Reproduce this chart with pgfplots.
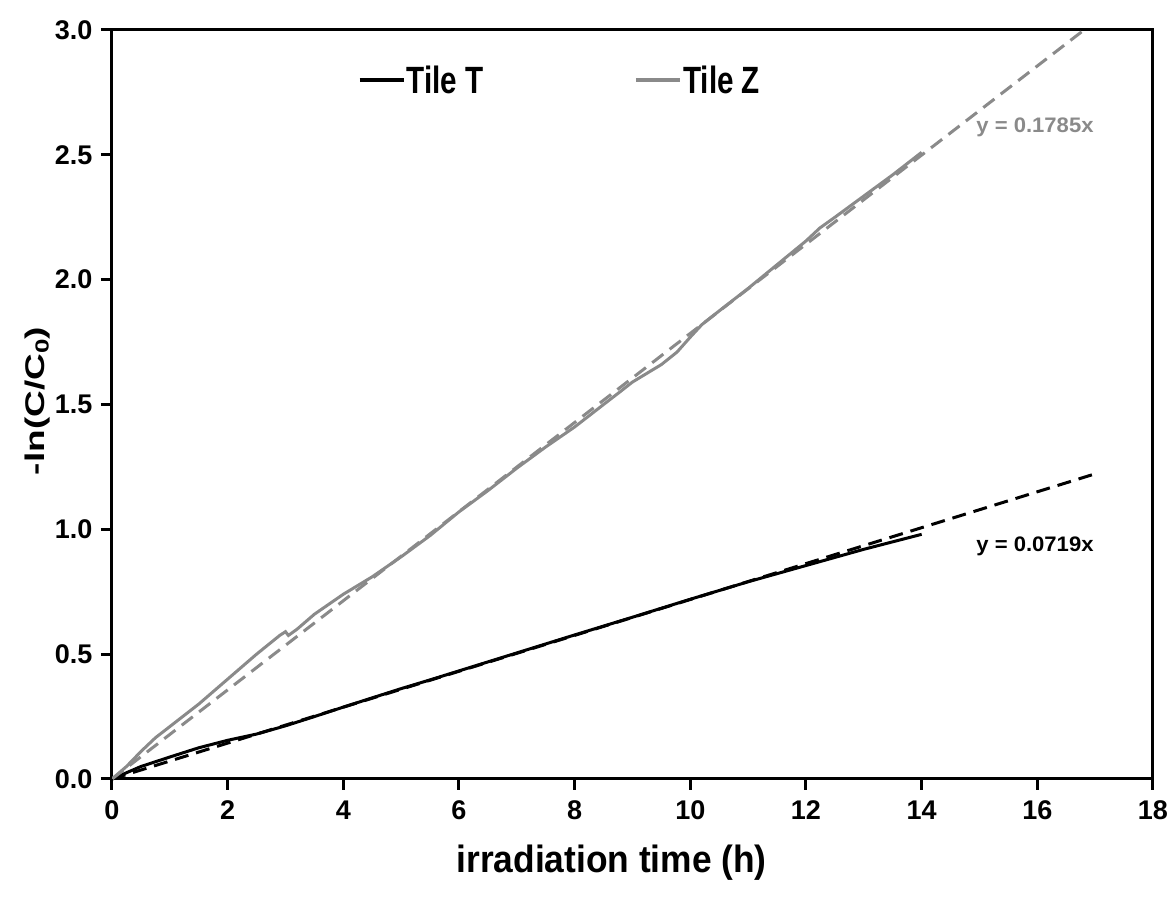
\documentclass[border=0pt]{standalone}
\usepackage{fontspec}
\setmainfont{Liberation Sans}
\newfontfamily\tickfont[FakeStretch=1.0]{Liberation Sans}
\newfontfamily\narrowfont[FakeStretch=0.78]{Liberation Sans}
\newfontfamily\xlabfont[FakeStretch=0.93]{Liberation Sans}
\newfontfamily\ylabfont[FakeStretch=1.37]{Liberation Sans}
\newfontfamily\eqfont[FakeStretch=1.05]{Liberation Sans}
\usepackage{pgfplots}
\pgfplotsset{compat=1.18}
\definecolor{zgray}{RGB}{138,138,138}
\begin{document}
\begin{tikzpicture}
\path[use as bounding box] (-112pt,-120pt) rectangle (1056pt,779pt);
\begin{axis}[
  at={(0pt,0pt)}, anchor=south west,
  scale only axis, width=1041pt, height=749pt,
  xmin=0, xmax=18, ymin=0, ymax=3,
  clip=false,
  xtick={0,2,...,18}, ytick={0,0.5,1,1.5,2,2.5,3},
  xtick pos=left, ytick pos=left,
  xtick align=outside, ytick align=outside,
  major tick length=11pt,
  major tick style={line width=3pt, black},
  axis line style={line width=3pt},
  /pgf/number format/assume math mode=true,
  yticklabel style={/pgf/number format/.cd, fixed, fixed zerofill, precision=1, /tikz/.cd, xshift=-5pt},
  xticklabel style={/pgf/number format/.cd, fixed, precision=0, /tikz/.cd, yshift=-7pt},
  ticklabel style={font=\tickfont\bfseries\fontsize{27}{27}\selectfont},
  legend columns=2,
  legend style={at={(0.236,0.933)}, anchor=west, draw=none, fill=none,
    inner sep=0pt, font=\narrowfont\bfseries\fontsize{38}{38}\selectfont,
    nodes={inner xsep=1.5pt, inner ysep=0pt},
    /tikz/every even column/.append style={column sep=149pt}},
  legend image code/.code={\draw[#1, line width=3.5pt] (0pt,0pt) -- (44pt,0pt);},
]
\addplot[black, line width=3pt] coordinates {
(0,0) (0.25,0.025) (0.5,0.05) (1,0.088) (1.5,0.125) (2,0.155) (2.5,0.18)
(3,0.213) (3.5,0.25) (4,0.288) (4.5,0.325) (5,0.362) (5.5,0.397) (6,0.433)
(7,0.505) (8,0.577) (9,0.648) (10,0.72) (11,0.79) (12,0.855) (13,0.92) (14,0.98)
};
\addlegendentry{Tile T}
\addplot[zgray, line width=3pt] coordinates {
(0,0) (0.25,0.05) (0.5,0.11) (0.75,0.165) (1,0.21) (1.5,0.30) (2,0.40)
(2.5,0.50) (2.9,0.575) (3.0,0.59) (3.05,0.575) (3.2,0.60) (3.5,0.66) (4,0.74)
(4.5,0.81) (5,0.89) (5.5,0.975) (6,1.07) (6.5,1.155) (7,1.245) (7.5,1.33)
(8,1.41) (8.5,1.50) (8.78,1.55) (9,1.59) (9.5,1.66) (9.77,1.71) (10,1.77)
(10.2,1.82) (10.5,1.875) (11,1.965) (11.5,2.06) (12,2.155) (12.24,2.207)
(12.5,2.25) (13,2.335) (13.5,2.42) (14,2.51)
};
\addlegendentry{Tile Z}
\addplot[black, line width=3pt, dash pattern=on 14pt off 8pt, forget plot] coordinates {(0,0) (17,1.2223)};
\addplot[zgray, line width=3pt, dash pattern=on 14pt off 8pt, forget plot] coordinates {(0,0) (16.807,3.0)};
\pgfplotsinvokeforeach{0,2,4,6,8,10,12,14,16,18}{
  \draw[line width=3pt, black] (axis cs:#1,0) -- ++(0pt,-11pt);
}
\pgfplotsinvokeforeach{0,0.5,1,1.5,2,2.5,3}{
  \draw[line width=3pt, black] (axis cs:0,#1) -- ++(-11pt,0pt);
}
\node[text=zgray, font=\eqfont\bfseries\fontsize{21}{21}\selectfont] at (axis cs:15.96,2.611) {y = 0.1785x};
\node[text=black, font=\eqfont\bfseries\fontsize{21}{21}\selectfont] at (axis cs:15.96,0.933) {y = 0.0719x};
\node[font=\xlabfont\bfseries\fontsize{38}{38}\selectfont] at (rel axis cs:0.480,-0.112) {irradiation time (h)};
\node[rotate=90, font=\ylabfont\bfseries\fontsize{27}{27}\selectfont] at (rel axis cs:-0.072,0.5047) {-ln(C/C\textsubscript{0})};
\end{axis}
\end{tikzpicture}
\end{document}
